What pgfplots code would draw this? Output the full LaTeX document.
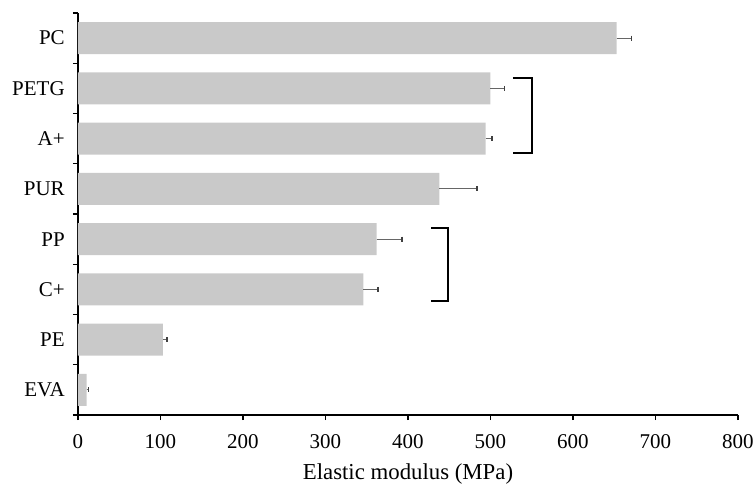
\documentclass[border=0pt]{standalone}
\usepackage{pgfplots}
\pgfplotsset{compat=1.18}
\usepackage{fontspec}
\setmainfont{Liberation Serif}

\pgfplotstableread{
idx val err
0 10.5 2
1 103 5
2 346 18
3 362 31
4 438 46
5 494 8
6 500 17
7 653 18
}\modulus

\begin{document}
\begin{tikzpicture}[font=\fontsize{10.5}{12.6}\selectfont]
\useasboundingbox (-39pt,-38.5pt) rectangle (338.5pt,207.5pt);
\begin{axis}[
  at={(0,0)}, anchor=south west,
  scale only axis, width=330pt, height=201pt,
  xmin=0, xmax=800, ymin=-0.5, ymax=7.5,
  axis lines=left,
  axis line style={-, black, line width=0.9pt},
  xtick={0,100,...,800},
  % ticks sit between the categories; each name is lifted to its bar
  ytick={-0.5,0.5,...,7.5},
  yticklabels={EVA,PE,C+,PP,PUR,A+,PETG,PC,{}},
  tick align=outside,
  major tick length=2.6pt,
  tick style={black, line width=0.7pt},
  /pgf/number format/assume math mode=true,
  xticklabel style={font=\fontsize{10.5}{12.6}\selectfont, yshift=-3.5pt},
  yticklabel style={font=\fontsize{10.5}{12.6}\selectfont, xshift=-0.5pt, yshift=12.5625pt},
  xlabel={Elastic modulus (MPa)},
  xlabel style={font=\fontsize{11.4}{13.5}\selectfont, yshift=-1pt},
  clip=false,
]
\addplot[xbar, bar width=0.64, fill=black!21, draw=none,
  error bars/.cd, x dir=plus, x explicit, error mark=|,
  error bar style={black!60, line width=0.5pt},
  error mark options={black!75, line width=0.8pt, mark size=1.3pt}]
  table[x=val, y=idx, x error=err] {\modulus};
% significance brackets
\draw[black, line width=1pt]
  (axis cs:527,6.21) -- (axis cs:550,6.21) -- (axis cs:550,4.71) -- (axis cs:527,4.71);
\draw[black, line width=1pt]
  (axis cs:428,3.22) -- (axis cs:448,3.22) -- (axis cs:448,1.77) -- (axis cs:428,1.77);
\end{axis}
\end{tikzpicture}
\end{document}
